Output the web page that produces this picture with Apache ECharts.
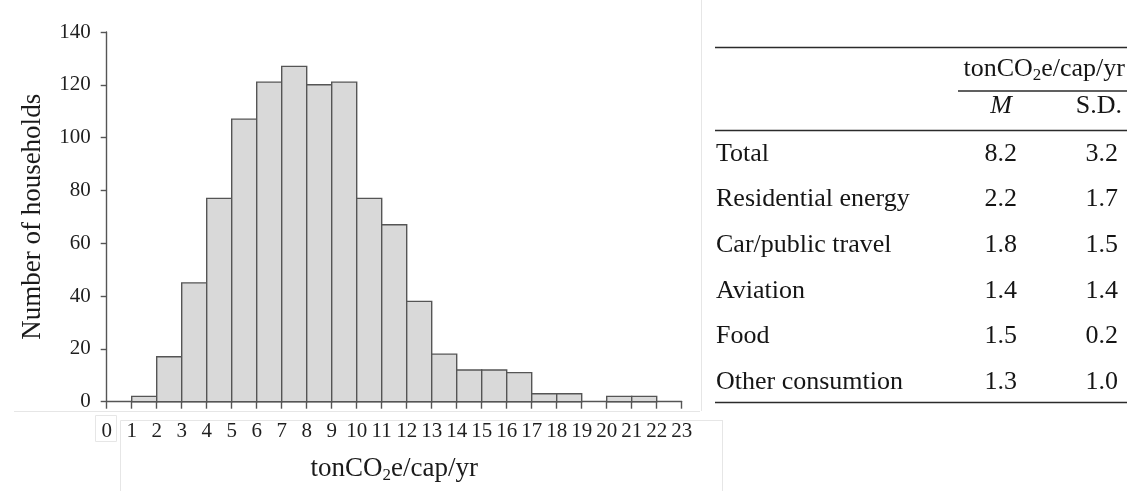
<!DOCTYPE html>
<html><head><meta charset="utf-8">
<script src="https://cdn.jsdelivr.net/npm/echarts@6/dist/echarts.min.js"></script>
<style>html,body{margin:0;padding:0;background:#fff}#c{width:1128px;height:491px}</style>
</head><body><div id="c"></div>
<script>
// Histogram data: bin lower edges (width 1) and household counts
const binStarts = [0,1,2,3,4,5,6,7,8,9,10,11,12,13,14,15,16,17,18,19,20,21,22];
const counts    = [0,2,17,45,77,107,121,127,120,121,77,67,38,18,12,12,11,3,3,0,2,2,0];
const xMin = 0, xMax = 23, xStep = 1;
const yMin = 0, yMax = 140, yStep = 20;

// Table data
const tableRows  = ['Total','Residential energy','Car/public travel','Aviation','Food','Other consumtion'];
const tableMeans = [8.2, 2.2, 1.8, 1.4, 1.5, 1.3];
const tableSDs   = [3.2, 1.7, 1.5, 1.4, 0.2, 1.0];

const SERIF = '"Liberation Serif","Times New Roman",serif';
const binData = binStarts.map((s, i) => [s, s + 1, counts[i]]);

const chart = echarts.init(document.getElementById('c'), null, {renderer: 'canvas'});

// ---- table graphics ----
const tbl = [];
const TL = 715, TR = 1127, lineCol = '#2b2b2b';
function hline(x1, x2, y, w) {
  tbl.push({type: 'line', shape: {x1: x1, y1: y, x2: x2, y2: y}, style: {stroke: lineCol, lineWidth: w || 1.4}, silent: true});
}
function txt(x, y, text, align, extra) {
  tbl.push({type: 'text', x: x, y: y, silent: true,
    style: Object.assign({text: text, fill: '#151515', font: '26px ' + SERIF, textAlign: align, textVerticalAlign: 'middle'}, extra || {})});
}
hline(TL, TR, 47.5);
hline(958, TR, 91);
hline(TL, TR, 130.5);
hline(TL, TR, 402.5);
tbl.push({type: 'text', x: 1125, y: 69, silent: true,
  style: {rich: {a: {fontSize: 26, fontFamily: SERIF, fill: '#151515', lineHeight: 30},
                 s: {fontSize: 17, fontFamily: SERIF, fill: '#151515', lineHeight: 23, verticalAlign: 'bottom'}},
          text: '{a|tonCO}{s|2}{a|e/cap/yr}', textAlign: 'right', textVerticalAlign: 'middle'}});
txt(1001, 106.5, 'M', 'center', {font: 'italic 26px ' + SERIF});
txt(1122, 106.5, 'S.D.', 'right');
tableRows.forEach((r, i) => {
  const y = 154 + i * 45.6;
  txt(716, y, r, 'left');
  txt(1017, y, tableMeans[i].toFixed(1), 'right');
  txt(1118, y, tableSDs[i].toFixed(1), 'right');
});

// faint screenshot frame artifacts
const faint = '#e6e6e6';
[[14, 411.5, 700, 411.5], [701.5, 0, 701.5, 411], [120.5, 420.5, 723, 420.5], [120.5, 420.5, 120.5, 491], [722.5, 420.5, 722.5, 491], [700, 420.5, 723, 420.5]]
  .forEach(l => tbl.push({type: 'line', shape: {x1: l[0], y1: l[1], x2: l[2], y2: l[3]}, style: {stroke: faint, lineWidth: 1}, silent: true}));
tbl.push({type: 'rect', shape: {x: 95.5, y: 415.5, width: 21, height: 26}, style: {fill: 'none', stroke: faint, lineWidth: 1}, silent: true, z: -1});

const option = {
  animation: false,
  backgroundColor: '#fff',
  grid: {left: 106.7, right: 446.3, top: 32, bottom: 89.3, containLabel: false},
  xAxis: {
    type: 'value', min: xMin, max: xMax, interval: xStep,
    name: '{a|tonCO}{s|2}{a|e/cap/yr}', nameLocation: 'middle', nameGap: 52,
    nameTextStyle: {rich: {a: {fontSize: 27, fontFamily: SERIF, color: '#1a1a1a', lineHeight: 30},
                           s: {fontSize: 17, fontFamily: SERIF, color: '#1a1a1a', lineHeight: 14, verticalAlign: 'bottom'}}},
    axisLine: {show: true, lineStyle: {color: '#555', width: 1.4}},
    axisTick: {show: true, inside: false, length: 7, lineStyle: {color: '#555', width: 1.4}},
    axisLabel: {fontSize: 21, fontFamily: SERIF, color: '#1f1f1f', margin: 19},
    splitLine: {show: false}
  },
  yAxis: {
    type: 'value', min: yMin, max: yMax, interval: yStep,
    name: 'Number of households', nameLocation: 'middle', nameGap: 60, nameRotate: 90,
    nameTextStyle: {fontSize: 27, fontFamily: SERIF, color: '#1a1a1a'},
    axisLine: {show: true, lineStyle: {color: '#555', width: 1.4}},
    axisTick: {show: true, inside: false, length: 6, lineStyle: {color: '#555', width: 1.4}},
    axisLabel: {fontSize: 21, fontFamily: SERIF, color: '#1f1f1f', margin: 16},
    splitLine: {show: false}
  },
  series: [{
    type: 'custom',
    data: binData,
    encode: {x: [0, 1], y: 2},
    renderItem: function (params, api) {
      const x0 = api.value(0), x1 = api.value(1), v = api.value(2);
      if (!v) return null;
      const p0 = api.coord([x0, v]);
      const p1 = api.coord([x1, 0]);
      return {type: 'rect',
        shape: {x: p0[0], y: p0[1], width: p1[0] - p0[0], height: p1[1] - p0[1]},
        style: {fill: '#d9d9d9', stroke: '#555', lineWidth: 1.4}};
    }
  }],
  graphic: tbl
};
chart.setOption(option);
</script></body></html>
